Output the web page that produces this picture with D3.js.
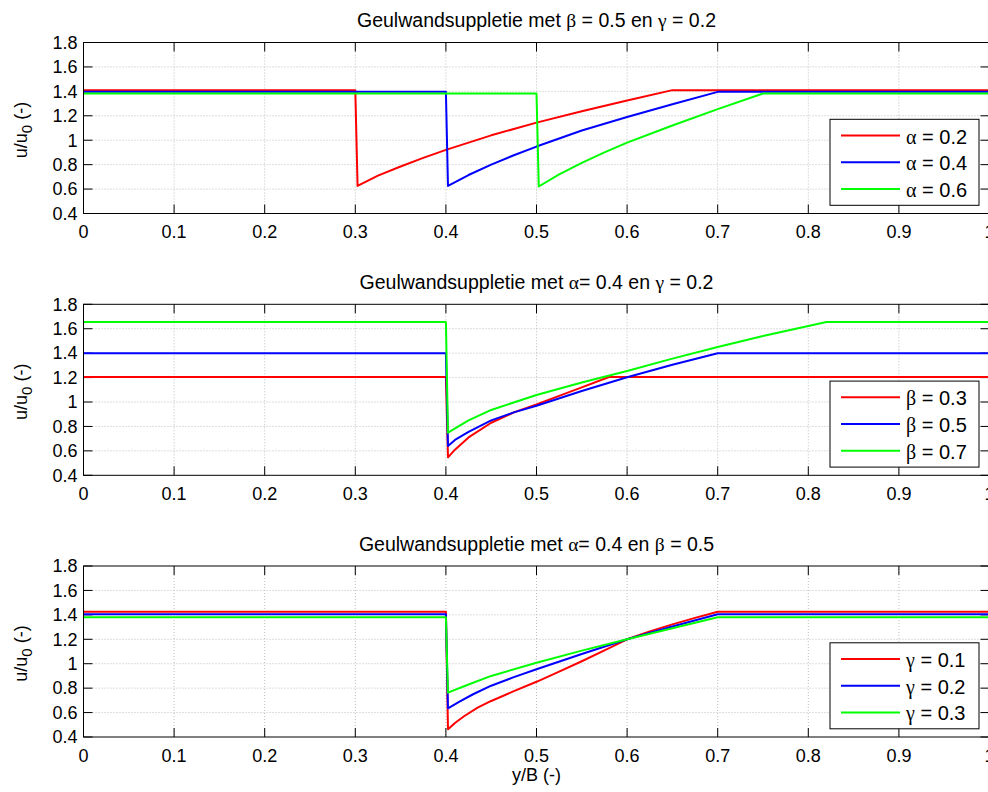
<!DOCTYPE html>
<html>
<head>
<meta charset="utf-8">
<script src="https://cdn.jsdelivr.net/npm/d3@7"></script>
<style>
  html, body { margin: 0; padding: 0; background: #fff; }
  svg { display: block; }
  text { font-family: "Liberation Sans", Arial, Helvetica, sans-serif; fill: #000; }
  .greek { font-family: "Liberation Serif", "DejaVu Serif", serif; }
</style>
</head>
<body>
<svg id="chart" width="988" height="792"></svg>
<script>
// Axis ticks shared by all three panels
const xTicks = [0, 0.1, 0.2, 0.3, 0.4, 0.5, 0.6, 0.7, 0.8, 0.9, 1];
const yTicks = [0.4, 0.6, 0.8, 1, 1.2, 1.4, 1.6, 1.8];
const xTickLabels = ["0", "0.1", "0.2", "0.3", "0.4", "0.5", "0.6", "0.7", "0.8", "0.9", "1"];
const yTickLabels = ["0.4", "0.6", "0.8", "1", "1.2", "1.4", "1.6", "1.8"];
const seriesColors = ["#ff0000", "#0000ff", "#00ff00"];

// Panel 1: varying alpha (beta = 0.5, gamma = 0.2), [y/B, u/u0]
const alpha02 = [[0,1.41],[0.3,1.41],[0.3025,0.626],[0.325,0.71],[0.35,0.785],[0.375,0.855],[0.4,0.921],[0.45,1.04],[0.5,1.144],[0.55,1.237],[0.6,1.325],[0.65,1.41],[1,1.41]];
const alpha04 = [[0,1.396],[0.4,1.396],[0.4023,0.626],[0.425,0.715],[0.45,0.8],[0.475,0.877],[0.5,0.948],[0.55,1.08],[0.6,1.19],[0.65,1.295],[0.7,1.396],[1,1.396]];
const alpha06 = [[0,1.382],[0.5,1.382],[0.5025,0.621],[0.525,0.72],[0.55,0.815],[0.575,0.9],[0.6,0.98],[0.65,1.12],[0.7,1.255],[0.75,1.382],[1,1.382]];

// Panel 2: varying beta (alpha = 0.4, gamma = 0.2)
const beta03 = [[0,1.205],[0.4,1.205],[0.4023,0.547],[0.41,0.61],[0.425,0.71],[0.45,0.83],[0.475,0.915],[0.5,0.98],[0.525,1.05],[0.55,1.12],[0.58,1.205],[1,1.205]];
const beta05 = [[0,1.40],[0.4,1.40],[0.4023,0.64],[0.41,0.69],[0.425,0.755],[0.45,0.85],[0.475,0.915],[0.5,0.97],[0.55,1.09],[0.6,1.203],[0.65,1.305],[0.7,1.40],[1,1.40]];
const beta07 = [[0,1.655],[0.4,1.655],[0.4023,0.749],[0.425,0.85],[0.45,0.935],[0.5,1.058],[0.55,1.16],[0.6,1.254],[0.65,1.355],[0.7,1.45],[0.75,1.54],[0.82,1.655],[1,1.655]];

// Panel 3: varying gamma (alpha = 0.4, beta = 0.5)
const gamma01 = [[0,1.425],[0.4,1.425],[0.4023,0.463],[0.41,0.515],[0.42,0.57],[0.435,0.64],[0.45,0.695],[0.475,0.775],[0.5,0.852],[0.525,0.935],[0.55,1.02],[0.575,1.11],[0.6,1.2],[0.625,1.265],[0.65,1.322],[0.675,1.375],[0.7,1.425],[1,1.425]];
const gamma02 = [[0,1.405],[0.4,1.405],[0.4023,0.635],[0.415,0.69],[0.43,0.75],[0.45,0.82],[0.475,0.89],[0.5,0.955],[0.55,1.08],[0.6,1.2],[0.65,1.305],[0.7,1.405],[1,1.405]];
const gamma03 = [[0,1.38],[0.4,1.38],[0.4023,0.763],[0.425,0.83],[0.45,0.9],[0.5,1.008],[0.55,1.107],[0.6,1.2],[0.65,1.29],[0.7,1.38],[1,1.38]];

// Titles (arrays mark Greek symbols) and legend entries
const titles = [
  ["Geulwandsuppletie met ", ["β"], " = 0.5 en ", ["γ"], " = 0.2"],
  ["Geulwandsuppletie met ", ["α"], "= 0.4 en ", ["γ"], " = 0.2"],
  ["Geulwandsuppletie met ", ["α"], "= 0.4 en ", ["β"], " = 0.5"]
];
const legendSymbols = ["α", "β", "γ"];
const legendValues = [["0.2", "0.4", "0.6"], ["0.3", "0.5", "0.7"], ["0.1", "0.2", "0.3"]];
const panelSeries = [[alpha02, alpha04, alpha06], [beta03, beta05, beta07], [gamma01, gamma02, gamma03]];

const svg = d3.select("#chart");
const left = 83.5, right = 989.5, panelH = 171, tops = [42.5, 304.3, 566];
const x = d3.scaleLinear().domain([0, 1]).range([left, right]);
const tickLen = 9;

tops.forEach((top, p) => {
  const bottom = top + panelH;
  const y = d3.scaleLinear().domain([0.4, 1.8]).range([bottom, top]);
  const g = svg.append("g");

  // dotted grid
  g.selectAll(".gx").data(xTicks.slice(1, -1)).join("line")
    .attr("x1", d => x(d)).attr("x2", d => x(d)).attr("y1", top).attr("y2", bottom)
    .attr("stroke", "#bdbdbd").attr("stroke-width", 1).attr("stroke-dasharray", "1,2");
  g.selectAll(".gy").data(yTicks.slice(1, -1)).join("line")
    .attr("x1", left).attr("x2", right).attr("y1", d => y(d)).attr("y2", d => y(d))
    .attr("stroke", "#bdbdbd").attr("stroke-width", 1).attr("stroke-dasharray", "1,2");

  // inner ticks on all four sides
  const tk = g.append("g").attr("stroke", "#000").attr("stroke-width", 1);
  xTicks.forEach(v => {
    tk.append("line").attr("x1", x(v)).attr("x2", x(v)).attr("y1", bottom).attr("y2", bottom - tickLen);
    tk.append("line").attr("x1", x(v)).attr("x2", x(v)).attr("y1", top).attr("y2", top + tickLen);
  });
  yTicks.forEach(v => {
    tk.append("line").attr("x1", left).attr("x2", left + tickLen).attr("y1", y(v)).attr("y2", y(v));
    tk.append("line").attr("x1", right).attr("x2", right - tickLen).attr("y1", y(v)).attr("y2", y(v));
  });

  // data lines
  const line = d3.line().x(d => x(d[0])).y(d => y(d[1]));
  panelSeries[p].forEach((s, i) => {
    g.append("path").datum(s).attr("d", line)
      .attr("fill", "none").attr("stroke", seriesColors[i]).attr("stroke-width", 2)
      .attr("stroke-linejoin", "round");
  });

  // axes box
  g.append("rect").attr("x", left).attr("y", top).attr("width", right - left).attr("height", panelH)
    .attr("fill", "none").attr("stroke", "#000").attr("stroke-width", 1);

  // tick labels
  g.selectAll(".xl").data(xTicks).join("text")
    .attr("x", d => x(d)).attr("y", bottom + 24.5).attr("text-anchor", "middle")
    .attr("font-size", 18).text((d, i) => xTickLabels[i]);
  g.selectAll(".yl").data(yTicks).join("text")
    .attr("x", left - 6).attr("y", d => y(d) + 6.3).attr("text-anchor", "end")
    .attr("font-size", 18).text((d, i) => yTickLabels[i]);

  // title
  const t = g.append("text").attr("x", (left + right) / 2).attr("y", top - 15.5)
    .attr("text-anchor", "middle").attr("font-size", 19.5);
  titles[p].forEach(part => {
    if (Array.isArray(part)) t.append("tspan").attr("class", "greek").text(part[0]);
    else t.append("tspan").text(part);
  });

  // y label u/u0 (-)
  const yl = g.append("text").attr("transform", `translate(27,${(top + bottom) / 2 + 2}) rotate(-90)`)
    .attr("text-anchor", "middle").attr("font-size", 18);
  yl.append("tspan").text("u/u");
  yl.append("tspan").attr("dy", 5).attr("font-size", 15).text("0");
  yl.append("tspan").attr("dy", -5).text(" (-)");

  // legend
  const lx = 830, ly = top + 76.8, lw = 149, lh = 86;
  const lg = g.append("g");
  lg.append("rect").attr("x", lx).attr("y", ly).attr("width", lw).attr("height", lh)
    .attr("fill", "#fff").attr("stroke", "#000").attr("stroke-width", 1);
  legendValues[p].forEach((v, i) => {
    const ry = top + 93 + i * 26.7;
    lg.append("line").attr("x1", 841).attr("x2", 900).attr("y1", ry).attr("y2", ry)
      .attr("stroke", seriesColors[i]).attr("stroke-width", 2);
    const lt = lg.append("text").attr("x", 906).attr("y", ry + 8).attr("font-size", 20);
    lt.append("tspan").attr("class", "greek").text(legendSymbols[p]);
    lt.append("tspan").text(" = " + v);
  });
});

// x label
svg.append("text").attr("x", (left + right) / 2).attr("y", 781).attr("text-anchor", "middle")
  .attr("font-size", 18).text("y/B (-)");
</script>
</body>
</html>
